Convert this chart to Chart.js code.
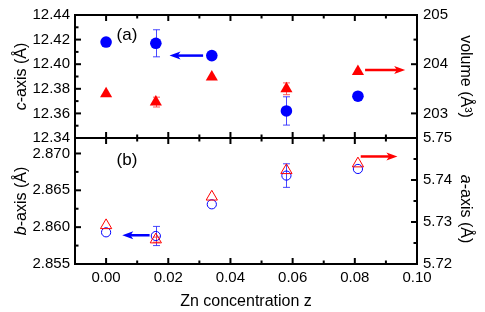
<!DOCTYPE html>
<html>
<head>
<meta charset="utf-8">
<script src="https://cdn.jsdelivr.net/npm/chart.js@4/dist/chart.umd.min.js"></script>
<style>
html,body{margin:0;padding:0;background:#fff;}
#wrap{position:relative;width:485px;height:312px;overflow:hidden;}
#wrap canvas{position:absolute;left:0;top:0;}
</style>
</head>
<body>
<div id="wrap">
<canvas id="topChart" width="485" height="312"></canvas>
<canvas id="bottomChart" width="485" height="312"></canvas>
</div>
<script>
// ---------------- data ----------------
const zConcentration = [0.000, 0.016, 0.034, 0.058, 0.081];
const cAxis      = [12.418, 12.417, 12.407, 12.362, 12.374];
const cAxisErr   = [0, 0.011, 0, 0.0115, 0];
const volume     = [203.40, 203.23, 203.74, 203.50, 203.85];
const volumeErr  = [0, 0.10, 0, 0.12, 0];
const bAxis      = [2.8593, 2.8588, 2.8631, 2.8670, 2.8679];
const bAxisErr   = [0, 0.0013, 0, 0.0016, 0];
const aAxis      = [5.7292, 5.7258, 5.7360, 5.7423, 5.7439];
const aAxisErr   = [0, 0.0006, 0, 0, 0];

const zTicks      = [0.00, 0.02, 0.04, 0.06, 0.08, 0.10];
const cTicks      = [12.34, 12.36, 12.38, 12.40, 12.42, 12.44];
const volumeTicks = [203, 204, 205];
const bTicks      = [2.855, 2.860, 2.865, 2.870];
const aTicks      = [5.72, 5.73, 5.74, 5.75];

const zRange = [-0.01, 0.10];
const cRange = [12.34, 12.44];
const volumeRange = [202.5, 205];
const bRange = [2.855, 2.8721];
const aRange = [5.72, 5.75];

// arrows (in data units) pointing at the axis each series belongs to
const topArrows = [
  {from: 0.0312, to: 0.0204, y: 12.407, axis: 'yc', color: '#0000ff'},
  {from: 0.0833, to: 0.0962, y: 203.88, axis: 'yv', color: '#ff0000'}
];
const bottomArrows = [
  {from: 0.0140, to: 0.0052, y: 2.8589, axis: 'yb', color: '#0000ff'},
  {from: 0.0819, to: 0.0937, y: 5.7456, axis: 'ya', color: '#ff0000'}
];

// ---------------- helpers ----------------
const FONT = "'Liberation Sans', Arial, sans-serif";
const BLUE = '#0000ff', RED = '#ff0000';

function pts(xs, ys) { return xs.map((x, i) => ({x: x, y: ys[i]})); }

function tickSet(majors, range) {
  const minors = [];
  const step = majors[1] - majors[0];
  for (let i = 0; i < majors.length - 1; i++) minors.push((majors[i] + majors[i + 1]) / 2);
  const lo = majors[0] - step / 2, hi = majors[majors.length - 1] + step / 2;
  if (lo > range[0] + 1e-9) minors.unshift(lo);
  if (hi < range[1] - 1e-9) minors.push(hi);
  return {majors, minors};
}

function axis(position, range, tickValues, decimals, sizePx, pad, showLabels, title) {
  const horizontal = position === 'bottom' || position === 'top';
  const a = {
    type: 'linear', position: position, min: range[0], max: range[1],
    grid: {display: false, drawTicks: false},
    border: {display: false},
    afterBuildTicks: s => { s.ticks = tickValues.map(v => ({value: v})); },
    ticks: {
      display: showLabels, autoSkip: false, maxRotation: 0, minRotation: 0,
      padding: pad, color: '#000', font: {family: FONT, size: 15},
      callback: v => Number(v).toFixed(decimals)
    },
    afterFit: s => { if (horizontal) s.height = sizePx; else s.width = sizePx; }
  };
  if (title) a.title = {display: true, text: title, color: '#000', font: {family: FONT, size: 16}, padding: {top: 0, bottom: 1}};
  return a;
}

function drawMixed(ctx, parts, cx, cy, rot) {
  ctx.save();
  ctx.translate(cx, cy);
  ctx.rotate(rot);
  let total = 0;
  parts.forEach(p => { ctx.font = p.font; p.w = ctx.measureText(p.text).width; total += p.w; });
  let x = -total / 2;
  ctx.textAlign = 'left';
  ctx.textBaseline = 'middle';
  ctx.fillStyle = '#000';
  parts.forEach(p => { ctx.font = p.font; ctx.fillText(p.text, x, 0); x += p.w; });
  ctx.restore();
}

function framePlugin(cfg) {
  return {
    id: 'frame_' + cfg.name,
    beforeDatasetsDraw(chart) {
      const ctx = chart.ctx, xs = chart.scales.x;
      ctx.save();
      cfg.errors.forEach(e => {
        const ys = chart.scales[e.axis];
        ctx.strokeStyle = e.color; ctx.lineWidth = 1;
        zConcentration.forEach((z, i) => {
          const err = e.err[i];
          if (!err) return;
          const px = Math.round(xs.getPixelForValue(z)) + 0.5;
          const y1 = ys.getPixelForValue(e.val[i] - err), y2 = ys.getPixelForValue(e.val[i] + err);
          ctx.beginPath();
          ctx.moveTo(px, y1); ctx.lineTo(px, y2);
          ctx.moveTo(px - 3.5, y1); ctx.lineTo(px + 3.5, y1);
          ctx.moveTo(px - 3.5, y2); ctx.lineTo(px + 3.5, y2);
          ctx.stroke();
        });
      });
      ctx.restore();
    },
    afterDraw(chart) {
      const ctx = chart.ctx, ca = chart.chartArea, xs = chart.scales.x;
      ctx.save();
      // ticks
      ctx.strokeStyle = '#000'; ctx.lineWidth = 2;
      const sides = [['x', 'top'], ['x', 'bottom'], [cfg.left, 'left'], [cfg.right, 'right']];
      sides.forEach(([id, side]) => {
        const s = chart.scales[id], set = cfg.ticks[id];
        const draw = (v, len) => {
          const p = s.getPixelForValue(v);
          ctx.beginPath();
          if (side === 'left') { ctx.moveTo(ca.left, p); ctx.lineTo(ca.left + len, p); }
          if (side === 'right') { ctx.moveTo(ca.right, p); ctx.lineTo(ca.right - len, p); }
          if (side === 'top') { ctx.moveTo(p, ca.top); ctx.lineTo(p, ca.top + len); }
          if (side === 'bottom') { ctx.moveTo(p, ca.bottom); ctx.lineTo(p, ca.bottom - len); }
          ctx.stroke();
        };
        set.majors.forEach(v => draw(v, 6));
        set.minors.forEach(v => draw(v, 3.5));
      });
      // frame
      ctx.strokeRect(ca.left, ca.top, ca.right - ca.left, ca.bottom - ca.top);
      // arrows
      cfg.arrows.forEach(a => {
        const ys = chart.scales[a.axis];
        const x0 = xs.getPixelForValue(a.from), x1 = xs.getPixelForValue(a.to), y = ys.getPixelForValue(a.y);
        const dir = Math.sign(x1 - x0), head = 11, hw = 4;
        ctx.strokeStyle = a.color; ctx.fillStyle = a.color; ctx.lineWidth = 2.5;
        ctx.beginPath(); ctx.moveTo(x0, y); ctx.lineTo(x1 - dir * head * 0.6, y); ctx.stroke();
        ctx.beginPath(); ctx.moveTo(x1, y); ctx.lineTo(x1 - dir * head, y - hw); ctx.lineTo(x1 - dir * head * 0.75, y); ctx.lineTo(x1 - dir * head, y + hw); ctx.closePath(); ctx.fill();
      });
      // panel label
      ctx.fillStyle = '#000';
      ctx.font = '17px ' + FONT; ctx.textAlign = 'center'; ctx.textBaseline = 'middle';
      ctx.fillText(cfg.label, ca.left + 52, ca.top + cfg.labelDy);
      // axis titles
      const mid = (ca.top + ca.bottom) / 2;
      const reg = '16px ' + FONT, ita = 'italic 16px ' + FONT;
      drawMixed(ctx, cfg.leftTitle.map(p => ({text: p[0], font: p[1] ? ita : reg})), 22, mid + cfg.leftTitleDy, -Math.PI / 2);
      drawMixed(ctx, cfg.rightTitle.map(p => ({text: p[0], font: p[1] ? ita : reg})), 465, mid + cfg.rightTitleDy, Math.PI / 2);
      ctx.restore();
    }
  };
}

const baseOptions = (padding, scales) => ({
  responsive: false, animation: false, devicePixelRatio: 1,
  layout: {padding: padding},
  plugins: {legend: {display: false}, tooltip: {enabled: false}},
  events: [],
  scales: scales
});

// ---------------- top panel (a) ----------------
new Chart(document.getElementById('topChart'), {
  type: 'scatter',
  data: {datasets: [
    {data: pts(zConcentration, volume), yAxisID: 'yv', pointStyle: 'triangle', pointRadius: 7, backgroundColor: RED, borderColor: RED, borderWidth: 0},
    {data: pts(zConcentration, cAxis), yAxisID: 'yc', pointStyle: 'circle', pointRadius: 5.8, backgroundColor: BLUE, borderColor: BLUE, borderWidth: 0}
  ]},
  options: baseOptions({left: 0, right: 0, top: 12, bottom: 174}, {
    x: axis('bottom', zRange, zTicks, 2, 0, 0, false),
    yc: axis('left', cRange, cTicks, 2, 75, 5, true),
    yv: axis('right', volumeRange, volumeTicks, 0, 68, 6, true)
  }),
  plugins: [framePlugin({
    name: 'top', left: 'yc', right: 'yv', label: '(a)', labelDy: 20,
    ticks: {x: tickSet(zTicks, zRange), yc: tickSet(cTicks, cRange), yv: tickSet(volumeTicks, volumeRange)},
    errors: [
      {axis: 'yc', val: cAxis, err: cAxisErr, color: 'rgba(40,40,255,0.85)'},
      {axis: 'yv', val: volume, err: volumeErr, color: 'rgba(255,60,60,0.85)'}
    ],
    arrows: topArrows,
    leftTitle: [['c', true], ['-axis (Å)', false]], leftTitleDy: 0,
    rightTitle: [['volume (Å³)', false]], rightTitleDy: 0
  })]
});

// ---------------- bottom panel (b) ----------------
new Chart(document.getElementById('bottomChart'), {
  type: 'scatter',
  data: {datasets: [
    {data: pts(zConcentration, aAxis), yAxisID: 'ya', pointStyle: 'triangle', pointRadius: 6.5, backgroundColor: 'rgba(0,0,0,0)', borderColor: RED, borderWidth: 1},
    {data: pts(zConcentration, bAxis), yAxisID: 'yb', pointStyle: 'circle', pointRadius: 4.6, backgroundColor: 'rgba(0,0,0,0)', borderColor: BLUE, borderWidth: 1}
  ]},
  options: baseOptions({left: 0, right: 0, top: 138, bottom: 0}, {
    x: axis('bottom', zRange, zTicks, 2, 48, 5, true, 'Zn concentration z'),
    yb: axis('left', bRange, bTicks, 3, 75, 5, true),
    ya: axis('right', aRange, aTicks, 2, 68, 6, true)
  }),
  plugins: [framePlugin({
    name: 'bottom', left: 'yb', right: 'ya', label: '(b)', labelDy: 22,
    ticks: {x: tickSet(zTicks, zRange), yb: tickSet(bTicks, bRange), ya: tickSet(aTicks, aRange)},
    errors: [
      {axis: 'yb', val: bAxis, err: bAxisErr, color: 'rgba(40,40,255,0.85)'},
      {axis: 'ya', val: aAxis, err: aAxisErr, color: 'rgba(255,60,60,0.85)'}
    ],
    arrows: bottomArrows,
    leftTitle: [['b', true], ['-axis (Å)', false]], leftTitleDy: 0,
    rightTitle: [['a', true], ['-axis (Å)', false]], rightTitleDy: 8
  })]
});
</script>
</body>
</html>
